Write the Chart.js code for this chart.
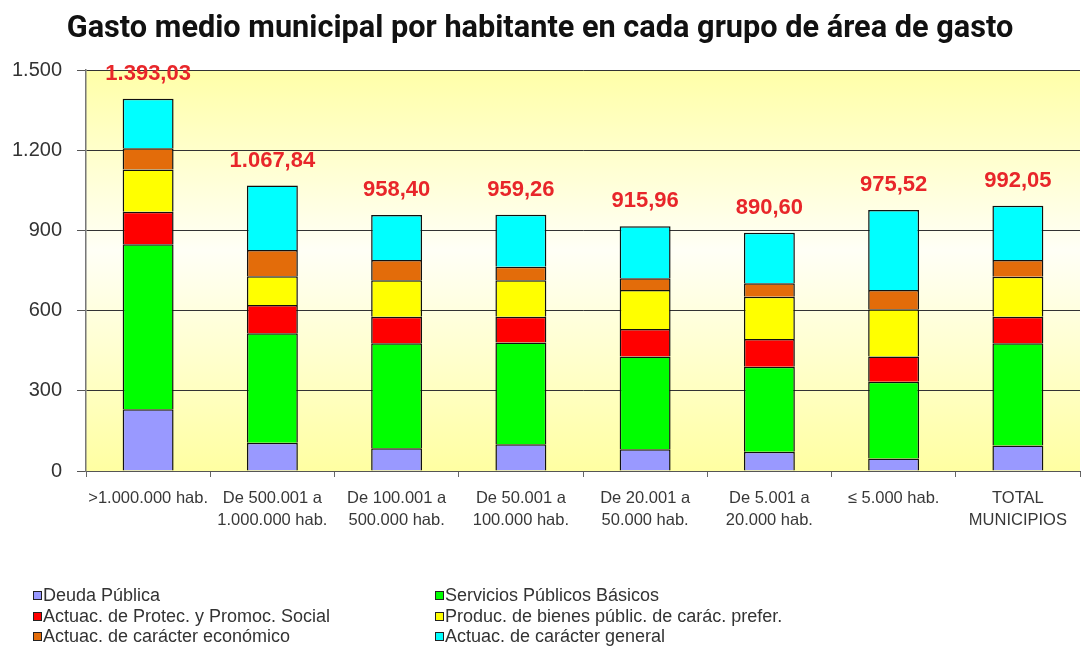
<!DOCTYPE html>
<html>
<head>
<meta charset="utf-8">
<script src="https://cdn.jsdelivr.net/npm/chart.js@4.4.1/dist/chart.umd.min.js"></script>
<style>
  body { margin: 0; background: #fff; }
  #wrap { position: relative; width: 1083px; height: 653px; }
  #legend { position: absolute; left: 33px; top: 585px; width: 900px;
    display: grid; grid-template-columns: 402px 420px; row-gap: 0;
    font-family: 'Liberation Sans', Arial, sans-serif;
    font-size: 18px; color: #333; }
  #legend div { height: 20.5px; line-height: 20.5px; white-space: nowrap; }
  #legend span { display: inline-block; width: 7px; height: 7px; border: 1px solid #222;
    margin-right: 1px; vertical-align: 1px; }
</style>
</head>
<body>
<div id="wrap">
  <canvas id="myChart0" width="1083" height="653"></canvas>
  <div id="legend"></div>
</div>
<script>
var categorias = [
  ['>1.000.000 hab.'],
  ['De 500.001 a', '1.000.000 hab.'],
  ['De 100.001 a', '500.000 hab.'],
  ['De 50.001 a', '100.000 hab.'],
  ['De 20.001 a', '50.000 hab.'],
  ['De 5.001 a', '20.000 hab.'],
  ['\u2264 5.000 hab.'],
  ['TOTAL', 'MUNICIPIOS']
];
var deuda     = [231, 106, 85, 100, 81, 72, 47, 95];
var servicios = [617, 409, 393, 381, 347, 318, 287, 383];
var protec    = [122, 106, 99, 96, 103, 104, 94, 99];
var produc    = [158, 108, 137, 137, 146, 158, 177, 150];
var economico = [79, 98, 75, 50, 44, 50, 72, 62];
var general   = [186, 241, 169, 195, 195, 189, 299, 203];
var totales   = [1393.03, 1067.84, 958.40, 959.26, 915.96, 890.60, 975.52, 992.05];
var yTicks    = [0, 300, 600, 900, 1200, 1500];

var fuente = "'Liberation Sans', Arial, sans-serif";

function miles(n) {
  return String(n).replace(/\B(?=(\d{3})+(?!\d))/g, '.');
}
function euros(n) {
  var p = n.toFixed(2).split('.');
  return miles(p[0]) + ',' + p[1];
}

// fondo amarillo degradado del area de trazado
var fondo = {
  id: 'fondo',
  beforeDraw: function(chart) {
    var a = chart.chartArea, ctx = chart.ctx;
    var g = ctx.createLinearGradient(0, a.top, 0, a.bottom);
    g.addColorStop(0, '#FFFFA8');
    g.addColorStop(0.45, '#FFFFF6');
    g.addColorStop(1, '#FFFFA2');
    ctx.save();
    ctx.fillStyle = g;
    ctx.fillRect(a.left, a.top, a.right - a.left, a.bottom - a.top);
    ctx.restore();
  }
};

// totales en rojo encima de cada barra
var totalesPlugin = {
  id: 'totales',
  afterDatasetsDraw: function(chart) {
    var ctx = chart.ctx, x = chart.scales.x, y = chart.scales.y;
    ctx.save();
    ctx.font = 'bold 22px ' + fuente;
    ctx.fillStyle = '#E8262A';
    ctx.textAlign = 'center';
    ctx.textBaseline = 'bottom';
    for (var i = 0; i < totales.length; i++) {
      ctx.fillText(euros(totales[i]), x.getPixelForValue(i), y.getPixelForValue(totales[i]) - 14);
    }
    ctx.restore();
  }
};

function serie(nombre, datos, color) {
  return { label: nombre, data: datos, backgroundColor: color, borderColor: '#111',
    borderWidth: 1.5, barPercentage: 0.41, categoryPercentage: 1 };
}

var ctx = document.getElementById('myChart0').getContext('2d');
var chart = new Chart(ctx, {
  type: 'bar',
  data: {
    labels: categorias,
    datasets: [
      serie('Deuda Pública', deuda, '#9999FF'),
      serie('Servicios Públicos Básicos', servicios, '#00FF00'),
      serie('Actuac. de Protec. y Promoc. Social', protec, '#FF0000'),
      serie('Produc. de bienes públic. de carác. prefer.', produc, '#FFFF00'),
      serie('Actuac. de carácter económico', economico, '#E36C0A'),
      serie('Actuac. de carácter general', general, '#00FFFF')
    ]
  },
  options: {
    responsive: false,
    animation: false,
    layout: { padding: { left: 0, right: 3, top: 0, bottom: 117 } },
    plugins: {
      legend: { display: false },
      tooltip: { enabled: false },
      title: {
        display: true,
        text: 'Gasto medio municipal por habitante en cada grupo de área de gasto',
        color: '#111',
        font: { family: 'Roboto', size: 30.7, weight: 'bold' },
        padding: { top: 11, bottom: 22.2 }
      }
    },
    scales: {
      x: {
        stacked: true,
        afterFit: function(s) { s.height = 65; },
        grid: { display: true, drawOnChartArea: false, offset: true, tickLength: 6, tickColor: '#666' },
        border: { color: '#555', width: 1 },
        ticks: { color: '#383838', padding: 10, maxRotation: 0, autoSkip: false,
          font: { family: fuente, size: 16.5, lineHeight: '22px' } }
      },
      y: {
        stacked: true,
        min: 0, max: 1500,
        afterFit: function(s) { s.width = 86; },
        afterBuildTicks: function(s) { s.ticks = yTicks.map(function(v) { return { value: v }; }); },
        grid: { color: '#333', tickLength: 9, tickColor: '#555' },
        border: { color: '#777', width: 1.5 },
        ticks: { color: '#333', padding: 15,
          font: { family: fuente, size: 20 },
          callback: function(v) { return miles(v); } }
      }
    }
  },
  plugins: [fondo, totalesPlugin]
});

// leyenda en dos columnas
var leg = document.getElementById('legend');
chart.data.datasets.forEach(function(d) {
  var item = document.createElement('div');
  var box = document.createElement('span');
  box.style.background = d.backgroundColor;
  item.appendChild(box);
  item.appendChild(document.createTextNode(d.label));
  leg.appendChild(item);
});
</script>
</body>
</html>
